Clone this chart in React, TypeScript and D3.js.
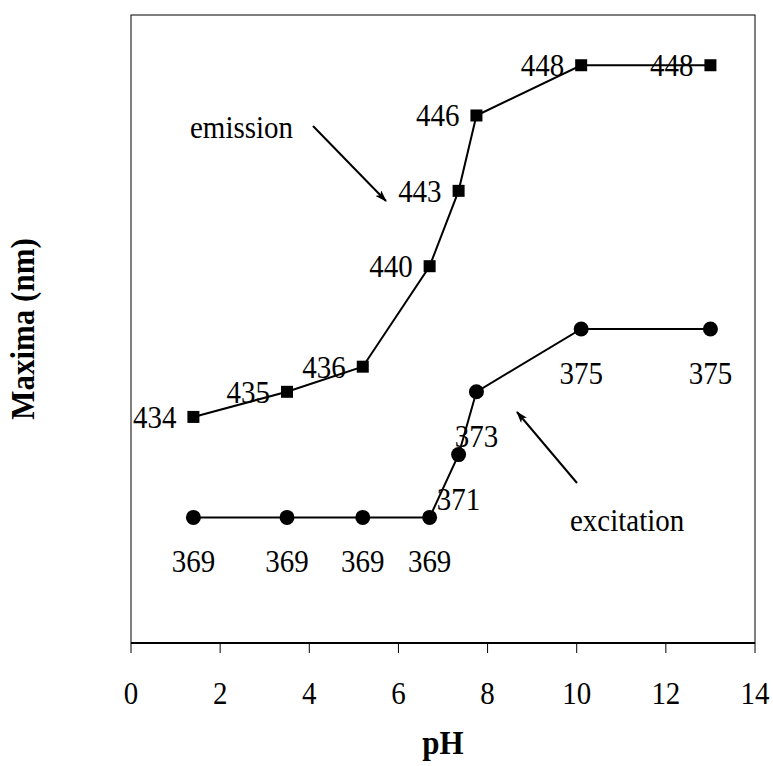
import * as d3 from 'd3';
import React from 'react';

// pH values shared by both series
const phValues = [1.4, 3.5, 5.2, 6.7, 7.35, 7.75, 10.1, 13.0];
// emission maxima (nm), square markers
const emission = [434, 435, 436, 440, 443, 446, 448, 448];
// excitation maxima (nm), round markers
const excitation = [369, 369, 369, 369, 371, 373, 375, 375];
const xTicks = [0, 2, 4, 6, 8, 10, 12, 14];

const W = 773;
const H = 766;
const left = 131;
const right = 755;
const top = 15;
const bottom = 643;
const font = '"Liberation Serif", "Times New Roman", serif';
const fs = 29;
const stretch = 1.12; // the original type is a bit taller than wide

// text drawn slightly stretched vertically, like the original
const T = ({ x, y, anchor = 'start', bold = false, rotate = 0, size = fs, children }: any) => (
  <g transform={`translate(${x},${y}) rotate(${rotate}) scale(1,${stretch})`}>
    <text textAnchor={anchor} fontSize={size} fontWeight={bold ? 'bold' : 'normal'}>
      {children}
    </text>
  </g>
);

const App = () => {
  const x = d3.scaleLinear().domain([0, 14]).range([left, right]);
  // the two series sit on their own (hidden) scales
  const yEm = d3.scaleLinear().domain([425, 450]).range([bottom, top]);
  const yEx = d3.scaleLinear().domain([365, 385]).range([bottom, top]);

  const emPts: [number, number][] = phValues.map((p, i) => [p, emission[i]]);
  const exPts: [number, number][] = phValues.map((p, i) => [p, excitation[i]]);

  const emLine = d3
    .line<[number, number]>()
    .x((d) => x(d[0]))
    .y((d) => yEm(d[1]));
  const exLine = d3
    .line<[number, number]>()
    .x((d) => x(d[0]))
    .y((d) => yEx(d[1]));

  return (
    <svg
      width={W}
      height={H}
      style={{ position: 'absolute', left: 0, top: 0, background: '#fff' }}
      fontFamily={font}
    >
      <defs>
        <marker
          id="arr"
          viewBox="0 0 12 8"
          refX={11}
          refY={4}
          markerWidth={12}
          markerHeight={8}
          markerUnits="userSpaceOnUse"
          orient="auto"
        >
          <path d="M0,0 L12,4 L0,8 L3,4 Z" fill="#000" />
        </marker>
      </defs>

      {/* frame */}
      <rect x={left} y={top} width={right - left} height={bottom - top} fill="none" stroke="#000" strokeWidth={1} />
      <line x1={left} x2={right} y1={bottom} y2={bottom} stroke="#000" strokeWidth={2} />

      {/* x axis ticks */}
      {xTicks.map((t) => (
        <g key={t}>
          <line x1={x(t)} x2={x(t)} y1={bottom} y2={bottom + 10} stroke="#000" strokeWidth={1} />
          <T x={x(t)} y={704} anchor="middle">
            {t}
          </T>
        </g>
      ))}

      <T x={(left + right) / 2} y={754} anchor="middle" bold size={31}>
        pH
      </T>
      <T x={34} y={(top + bottom) / 2} anchor="middle" bold rotate={-90} size={31}>
        Maxima (nm)
      </T>

      {/* emission */}
      <path d={emLine(emPts) || ''} fill="none" stroke="#000" strokeWidth={2} />
      {emPts.map((d, i) => (
        <g key={'e' + i}>
          <rect x={x(d[0]) - 6} y={yEm(d[1]) - 6} width={12} height={12} fill="#000" />
          <T x={x(d[0]) - 17} y={yEm(d[1]) + 11} anchor="end">
            {d[1]}
          </T>
        </g>
      ))}

      {/* excitation */}
      <path d={exLine(exPts) || ''} fill="none" stroke="#000" strokeWidth={2} />
      {exPts.map((d, i) => (
        <g key={'x' + i}>
          <circle cx={x(d[0])} cy={yEx(d[1])} r={7.5} fill="#000" />
          <T x={x(d[0])} y={yEx(d[1]) + 55} anchor="middle">
            {d[1]}
          </T>
        </g>
      ))}

      {/* annotations */}
      <T x={190} y={138}>
        emission
      </T>
      <line x1={313} y1={126} x2={386} y2={201} stroke="#000" strokeWidth={2} markerEnd="url(#arr)" />
      <T x={570} y={531}>
        excitation
      </T>
      <line x1={577} y1={483} x2={517} y2={412} stroke="#000" strokeWidth={2} markerEnd="url(#arr)" />
    </svg>
  );
};

export default App;
